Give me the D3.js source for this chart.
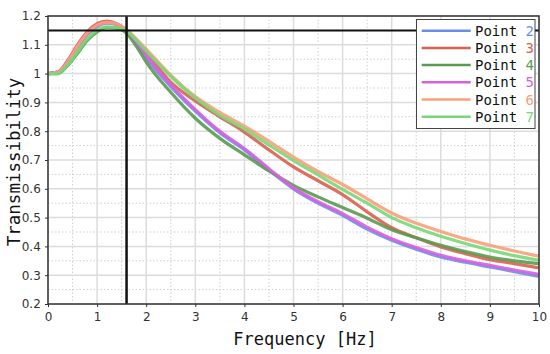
<!DOCTYPE html>
<html><head><meta charset="utf-8">
<script src="https://cdn.jsdelivr.net/npm/d3@7"></script>
<style>body{margin:0;background:#fff}svg{display:block}</style>
</head><body>
<svg id="c" width="550" height="354"></svg>
<script>
const freq = [0,0.2,0.4,0.6,0.8,1.0,1.2,1.4,1.6,1.8,2,2.5,3,3.5,4,4.5,5,5.5,6,6.5,7,7.5,8,8.5,9,9.5,10];
const point2 = [1.0,1.005,1.04,1.09,1.135,1.163,1.175,1.17,1.148,1.105,1.055,0.955,0.87,0.795,0.735,0.665,0.6,0.55,0.508,0.46,0.421,0.39,0.363,0.345,0.329,0.312,0.296];
const point3 = [1.0,1.005,1.045,1.10,1.145,1.173,1.182,1.173,1.15,1.115,1.075,0.97,0.905,0.85,0.797,0.735,0.676,0.628,0.58,0.52,0.465,0.43,0.398,0.375,0.354,0.34,0.325];
const point4 = [1.0,1.0,1.028,1.07,1.115,1.145,1.16,1.158,1.14,1.095,1.04,0.935,0.845,0.775,0.718,0.662,0.612,0.572,0.535,0.498,0.458,0.43,0.404,0.382,0.363,0.35,0.34];
const point5 = [1.0,1.005,1.043,1.095,1.14,1.168,1.178,1.172,1.15,1.11,1.062,0.962,0.875,0.8,0.74,0.67,0.603,0.555,0.514,0.467,0.427,0.396,0.369,0.35,0.334,0.318,0.303];
const point6 = [1.0,1.005,1.04,1.095,1.14,1.168,1.178,1.172,1.152,1.12,1.085,0.995,0.92,0.865,0.818,0.765,0.71,0.66,0.615,0.565,0.516,0.48,0.452,0.426,0.404,0.384,0.366];
const point7 = [1.0,1.0,1.03,1.075,1.12,1.15,1.162,1.16,1.148,1.115,1.078,0.99,0.915,0.855,0.808,0.752,0.698,0.648,0.598,0.55,0.5,0.465,0.435,0.41,0.387,0.368,0.352];
const seriesNames = ["2","3","4","5","6","7"];
const seriesColors = ["#6a8ee8","#d9604f","#5a9a50","#d860e0","#f8a078","#78d878"];
const xTicks = [0,1,2,3,4,5,6,7,8,9,10];
const yTicks = [0.2,0.3,0.4,0.5,0.6,0.7,0.8,0.9,1,1.1,1.2];
const refX = 1.6, refY = 1.15;

const series = [point2,point3,point4,point5,point6,point7];
const svg = d3.select("#c");
const L=48,R=539,T=16,B=304;
const x = d3.scaleLinear().domain([0,10]).range([L,R]);
const y = d3.scaleLinear().domain([0.2,1.2]).range([B,T]);

// minor grid
const g = svg.append("g");
d3.range(0.5,10,1).forEach(v=>g.append("line").attr("x1",x(v)).attr("x2",x(v)).attr("y1",T).attr("y2",B)
  .attr("stroke","#cfcfcf").attr("stroke-width",1).attr("stroke-dasharray","1.5,2"));
d3.range(0.25,1.2,0.1).forEach(v=>g.append("line").attr("y1",y(v)).attr("y2",y(v)).attr("x1",L).attr("x2",R)
  .attr("stroke","#cfcfcf").attr("stroke-width",1).attr("stroke-dasharray","1.5,2"));
// major grid
xTicks.forEach(v=>g.append("line").attr("x1",x(v)).attr("x2",x(v)).attr("y1",T).attr("y2",B)
  .attr("stroke","#dcdcdc").attr("stroke-width",1.5));
yTicks.forEach(v=>g.append("line").attr("y1",y(v)).attr("y2",y(v)).attr("x1",L).attr("x2",R)
  .attr("stroke","#dcdcdc").attr("stroke-width",1.5));

// curves
const line = d3.line().x((d,i)=>x(freq[i])).y(d=>y(d)).curve(d3.curveMonotoneX);
series.forEach((s,i)=>svg.append("path").datum(s).attr("d",line).attr("fill","none")
  .attr("stroke",seriesColors[i]).attr("stroke-width",3.2).attr("stroke-opacity",0.9)
  .attr("stroke-linejoin","round"));

// reference lines
svg.append("line").attr("x1",L).attr("x2",R).attr("y1",y(refY)).attr("y2",y(refY)).attr("stroke","#111").attr("stroke-width",2);
svg.append("line").attr("x1",x(refX)).attr("x2",x(refX)).attr("y1",T).attr("y2",B).attr("stroke","#111").attr("stroke-width",2.5);

// frame
svg.append("rect").attr("x",L).attr("y",T).attr("width",R-L).attr("height",B-T).attr("fill","none").attr("stroke","#333").attr("stroke-width",1.5);

// axes
const xa = svg.append("g").attr("transform",`translate(0,${B})`)
  .call(d3.axisBottom(x).tickValues(xTicks).tickFormat(d3.format("d")).tickSize(3).tickSizeOuter(0));
const ya = svg.append("g").attr("transform",`translate(${L},0)`)
  .call(d3.axisLeft(y).tickValues(yTicks).tickFormat(d=>d3.format("~g")(d)).tickSize(3).tickSizeOuter(0));
[xa,ya].forEach(a=>{a.select(".domain").remove();
  a.selectAll("text").attr("font-family","DejaVu Sans").attr("font-size",12).attr("fill","#333");
  a.selectAll("line").attr("stroke","#333");});
xa.selectAll("text").attr("dy","0.95em");
ya.selectAll("text").attr("dx","-0.1em");

// titles
svg.append("text").attr("x",305).attr("y",345).attr("text-anchor","middle")
  .attr("font-family","DejaVu Sans Mono").attr("font-size",17).attr("fill","#111").text("Frequency [Hz]");
svg.append("text").attr("transform","translate(20,162) rotate(-90)").attr("text-anchor","middle")
  .attr("font-family","DejaVu Sans Mono").attr("font-size",17.5).attr("fill","#111").text("Transmissibility");

// legend
const lg = svg.append("g");
lg.append("rect").attr("x",416.5).attr("y",19.5).attr("width",118.5).attr("height",109).attr("fill","#fff").attr("stroke","#444").attr("stroke-width",1);
seriesNames.forEach((n,i)=>{
  const cy = 30.7 + i*17.2;
  lg.append("line").attr("x1",421.7).attr("x2",470.7).attr("y1",cy).attr("y2",cy).attr("stroke",seriesColors[i]).attr("stroke-width",2.5);
  const t = lg.append("text").attr("x",475).attr("y",cy+5).attr("font-family","DejaVu Sans Mono").attr("font-size",14).attr("fill","#111");
  t.append("tspan").text("Point ");
  t.append("tspan").attr("fill",seriesColors[i]).text(n);
});
</script>
</body></html>
